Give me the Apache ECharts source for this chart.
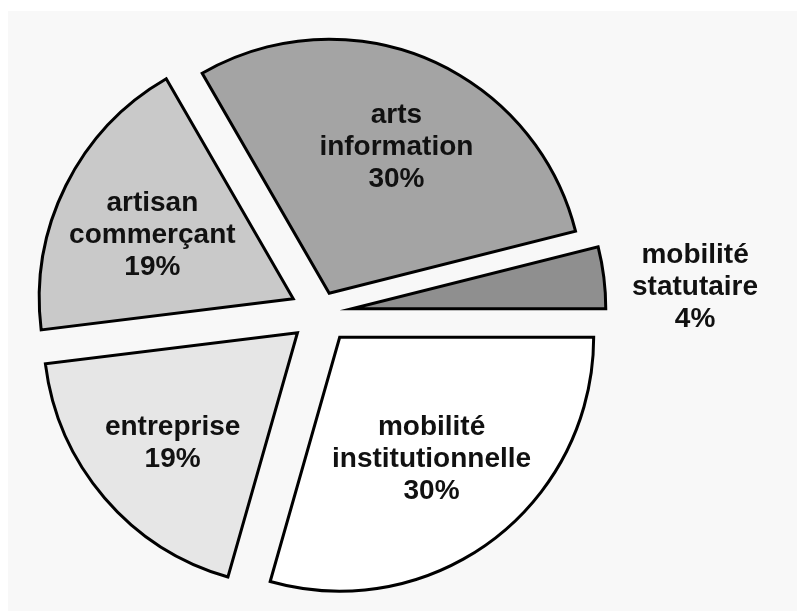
<!DOCTYPE html>
<html>
<head>
<meta charset="utf-8">
<script src="https://cdn.jsdelivr.net/npm/echarts@6/dist/echarts.min.js"></script>
<style>
  html, body { margin: 0; padding: 0; background: #ffffff; }
  #chart { width: 797px; height: 611px; }
</style>
</head>
<body>
<div id="chart"></div>
<script>
// Slices, listed counter-clockwise starting at 3 o'clock
const categories = [
  'mobilité statutaire',
  'arts information',
  'artisan commerçant',
  'entreprise',
  'mobilité institutionnelle'
];
const shares = [4, 30, 19, 19, 30];

// Grey shades for each slice
const fills = ['#8f8f8f', '#a4a4a4', '#c9c9c9', '#e6e6e6', '#ffffff'];

// Pie geometry
const CX = 321, CY = 312.5, R = 254;
const EXPLODE = 31;          // pull-out distance of the slices
const EXPLODE_ARTS = 21;     // "arts information" is pulled out a little less
const ARTS = 1;
const TEXT_DROP = 3;         // optical baseline correction for captions

// Label placement: radius fraction measured from the slice's own apex,
// and a small angular nudge (degrees) from its bisector
const labelSpots = [
  { frac: 1.355, turn: -3.0 },
  { frac: 0.642, turn: -1.4 },
  { frac: 0.614, turn: 1.1 },
  { frac: 0.650, turn: 0.3 },
  { frac: 0.592, turn: 0.6 }
];

const total = shares.reduce((a, b) => a + b, 0);
const bisectors = [];
{
  let acc = 0;
  shares.forEach(v => { bisectors.push((acc + v / 2) / total * 360); acc += v; });
}

function labelPoint(i) {
  const off = i === ARTS ? EXPLODE_ARTS : EXPLODE;
  const b = bisectors[i] * Math.PI / 180;
  const ax = CX + off * Math.cos(b);
  const ay = CY - off * Math.sin(b);
  const a = (bisectors[i] + labelSpots[i].turn) * Math.PI / 180;
  const d = labelSpots[i].frac * R;
  return { x: ax + d * Math.cos(a), y: ay - d * Math.sin(a) + TEXT_DROP };
}

function labelText(i) {
  return categories[i].replace(/ /g, '\n') + '\n' + shares[i] + '%';
}

function buildData(visible) {
  return categories.map((name, i) => {
    const on = visible(i);
    const style = on
      ? { color: fills[i], borderColor: '#000000', borderWidth: 3, borderJoin: 'miter', borderMiterLimit: 10 }
      : { color: 'rgba(0,0,0,0)', borderWidth: 0 };
    return {
      name: name,
      value: shares[i],
      selected: on,
      itemStyle: style,
      select: { itemStyle: style }
    };
  });
}

function pieSeries(offset, visible) {
  return {
    type: 'pie',
    center: [CX, CY],
    radius: [0, R],
    startAngle: 0,
    clockwise: false,
    selectedMode: 'multiple',
    selectedOffset: offset,
    silent: true,
    animation: false,
    emphasis: { disabled: true, scale: false },
    label: { show: false },
    labelLine: { show: false },
    data: buildData(visible)
  };
}

// Slice captions, placed from the pie geometry above
const captions = categories.map((_, i) => {
  const pt = labelPoint(i);
  return {
    type: 'text',
    z: 100,
    silent: true,
    x: pt.x,
    y: pt.y,
    style: {
      text: labelText(i),
      fill: '#111111',
      fontFamily: '"Liberation Sans", Arial, sans-serif',
      fontWeight: 'bold',
      fontSize: 28,
      lineHeight: 32,
      align: 'center',
      verticalAlign: 'middle',
      textAlign: 'center',
      textVerticalAlign: 'middle'
    }
  };
});

const chart = echarts.init(document.getElementById('chart'), null, { renderer: 'canvas' });
chart.setOption({
  backgroundColor: '#ffffff',
  animation: false,
  graphic: [{
    type: 'rect',
    z: -10,
    silent: true,
    shape: { x: 8, y: 11, width: 789, height: 600 },
    style: { fill: '#f8f8f8' }
  }].concat(captions),
  series: [
    pieSeries(EXPLODE, i => i !== ARTS),
    pieSeries(EXPLODE_ARTS, i => i === ARTS)
  ]
});
</script>
</body>
</html>
